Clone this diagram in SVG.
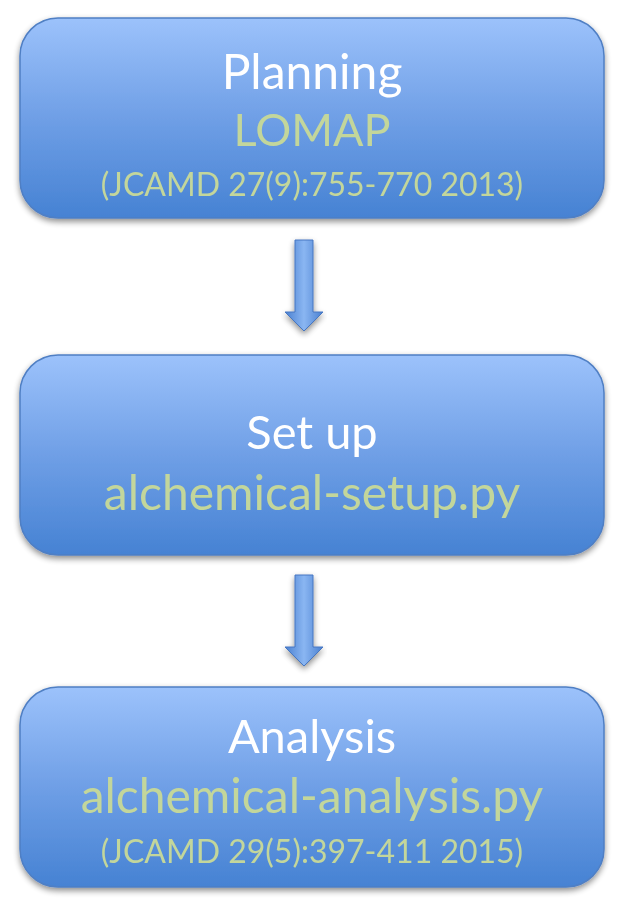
<svg xmlns="http://www.w3.org/2000/svg" width="624" height="911" viewBox="0 0 624 911">
<defs>
<linearGradient id="boxg" x1="0" y1="0" x2="0" y2="1">
<stop offset="0" stop-color="#9cc2fb"/>
<stop offset="0.5" stop-color="#6f9fe6"/>
<stop offset="1" stop-color="#4682d3"/>
</linearGradient>
<linearGradient id="arrg" x1="0" y1="0" x2="1" y2="0">
<stop offset="0" stop-color="#4a80d0"/>
<stop offset="0.5" stop-color="#8ab6f2"/>
<stop offset="1" stop-color="#4a80d0"/>
</linearGradient>
<filter id="sh" x="-10%" y="-10%" width="120%" height="130%">
<feGaussianBlur in="SourceAlpha" stdDeviation="3"/>
<feOffset dx="0" dy="3"/>
<feComponentTransfer><feFuncA type="linear" slope="0.45"/></feComponentTransfer>
<feMerge><feMergeNode/><feMergeNode in="SourceGraphic"/></feMerge>
</filter>
</defs>
<style>
.box{fill:url(#boxg);stroke:#4f7fc4;stroke-width:1.5}
.t{font-family:Lato,"Open Sans","Liberation Sans",sans-serif;text-anchor:middle}
.w{fill:#ffffff}
.g{fill:#c3d69b}
.arr{fill:url(#arrg);stroke:#4677c2;stroke-width:1}
</style>
<g id="planning" filter="url(#sh)">
<rect class="box" x="20" y="18" width="584" height="200" rx="38"/>
<text class="t w" x="312" y="89" font-size="48">Planning</text>
<text class="t g" x="312" y="146" font-size="45">LOMAP</text>
<text class="t g" x="312" y="196" font-size="32">(JCAMD 27(9):755-770 2013)</text>
</g>
<g id="setup" filter="url(#sh)">
<rect class="box" x="20" y="355" width="584" height="200" rx="38"/>
<text class="t w" x="312" y="449" font-size="47">Set up</text>
<text class="t g" x="312" y="510" font-size="48">alchemical-setup.py</text>
</g>
<g id="analysis" filter="url(#sh)">
<rect class="box" x="20" y="687" width="584" height="200" rx="38"/>
<text class="t w" x="312" y="753" font-size="47">Analysis</text>
<text class="t g" x="312" y="813" font-size="48">alchemical-analysis.py</text>
<text class="t g" x="312" y="863" font-size="32">(JCAMD 29(5):397-411 2015)</text>
</g>
<g id="connectors" filter="url(#sh)">
<path class="arr" d="M295,240 H313 V312 H323 L304,331 L285,312 H295 Z"/>
<path class="arr" d="M295,575 H313 V647 H323 L304,666 L285,647 H295 Z"/>
</g>
</svg>
